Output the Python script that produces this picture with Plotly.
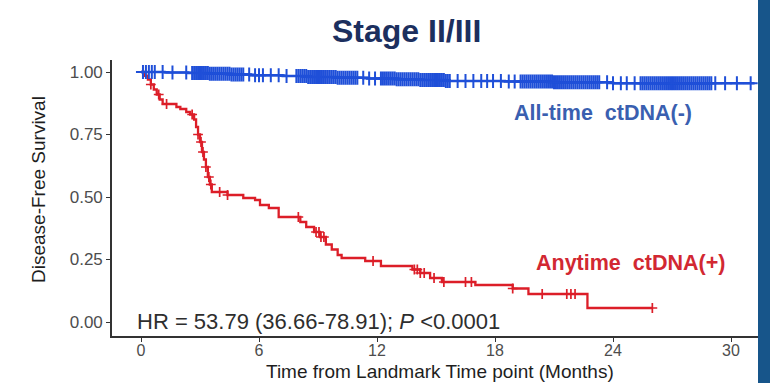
import bisect
import plotly.graph_objects as go

# ---------------- data ----------------
title_text = "Stage II/III"
x_ticks = [0, 6, 12, 18, 24, 30]
y_ticks = [0.0, 0.25, 0.5, 0.75, 1.0]
y_tick_labels = ["0.00", "0.25", "0.50", "0.75", "1.00"]

# All-time ctDNA(-) Kaplan-Meier steps
neg_times = [0, 1.2, 2.4, 3.5, 4.6, 5.6, 7.2, 8.5, 10.0, 11.5, 13.0, 14.2, 15.5, 18.5, 21.0, 24.0]
neg_surv = [1.0, 0.998, 0.996, 0.993, 0.99, 0.987, 0.984, 0.98, 0.977, 0.974, 0.971, 0.968, 0.964, 0.962, 0.959, 0.955]
neg_end = 31.2
neg_censor = [0.1, 0.25, 0.4, 0.55, 0.7, 1.1, 1.6, 2.3,
              2.6, 2.7, 2.8, 2.9, 3.0, 3.1, 3.2, 3.3, 3.4, 3.5, 3.6, 3.7, 3.8, 3.9,
              4.0, 4.1, 4.2, 4.3, 4.4, 4.5, 4.6, 4.7, 4.8, 4.9, 5.0, 5.1, 5.2,
              5.5, 5.8, 6.0, 6.2, 6.6, 7.0, 7.4,
              7.9, 8.0, 8.1, 8.2, 8.3, 8.4, 8.5, 8.6, 8.7, 8.8, 8.9, 9.0, 9.1, 9.2,
              9.3, 9.4, 9.5, 9.6, 9.7, 9.8, 9.9, 10.0, 10.1, 10.2, 10.3, 10.4, 10.5,
              10.6, 10.7, 10.8, 10.9, 11.0, 11.3, 11.6, 11.9,
              12.2, 12.3, 12.4, 12.5, 12.6, 12.7, 12.8, 12.9, 13.0, 13.1, 13.2, 13.3,
              13.4, 13.5, 13.6, 13.7, 13.8, 13.9, 14.0, 14.1, 14.2, 14.3, 14.4, 14.5,
              14.6, 14.7, 14.8, 14.9, 15.0, 15.1, 15.2, 15.3, 15.4, 15.5, 15.6, 15.7,
              16.1, 16.5, 16.9, 17.3, 17.6, 17.9, 18.3, 18.7, 19.0,
              19.3, 19.4, 19.5, 19.6, 19.7, 19.8, 19.9, 20.0, 20.1, 20.2, 20.3, 20.4,
              20.5, 20.6, 20.7, 20.8, 20.9, 21.0, 21.1, 21.2, 21.3, 21.4, 21.5, 21.6,
              21.7, 21.8, 21.9, 22.0, 22.1, 22.2, 22.3, 22.4, 22.5, 22.6, 22.7, 22.8,
              22.9, 23.0, 23.1, 23.2, 23.3,
              23.7, 24.0, 24.4, 24.7, 25.1,
              25.4, 25.5, 25.6, 25.7, 25.8, 25.9, 26.0, 26.1, 26.2, 26.3, 26.4, 26.5,
              26.6, 26.7, 26.8, 26.9, 27.0, 27.1, 27.2, 27.3, 27.4, 27.5, 27.6, 27.7,
              27.8, 27.9, 28.0, 28.1, 28.2, 28.3, 28.4, 28.5, 28.6, 28.7, 28.8, 28.9,
              29.0, 29.2, 29.7, 30.3, 31.0]

# Anytime ctDNA(+) Kaplan-Meier steps
pos_times = [0, 0.2, 0.35, 0.5, 0.65, 0.8, 0.95, 1.1, 1.8, 2.0, 2.3, 2.5, 2.7, 2.8, 2.9,
             3.0, 3.1, 3.2, 3.3, 3.4, 3.5, 3.6, 4.4, 5.2, 5.8, 6.05, 6.5, 7.0, 8.1, 8.4,
             8.8, 9.1, 9.4, 9.7, 10.0, 10.2, 11.4, 12.2, 13.8, 14.2, 14.7, 15.3, 17.0,
             18.9, 19.7, 22.7]
pos_surv = [1.0, 0.985, 0.97, 0.95, 0.93, 0.91, 0.89, 0.872, 0.86, 0.852, 0.84, 0.83, 0.81,
            0.78, 0.75, 0.72, 0.68, 0.65, 0.62, 0.58, 0.55, 0.52, 0.508, 0.496, 0.488, 0.468,
            0.456, 0.42, 0.40, 0.38, 0.36, 0.34, 0.31, 0.29, 0.268, 0.256, 0.244, 0.224,
            0.21, 0.196, 0.176, 0.16, 0.148, 0.134, 0.112, 0.056]
pos_end = 26.0
pos_censor = [0.5, 0.9, 1.3, 2.6, 2.9, 3.05, 3.15, 3.3, 3.45, 3.55, 4.0, 4.4, 8.0, 8.9,
              9.05, 9.15, 9.3, 11.8, 13.9, 14.05, 14.2, 14.4, 14.9, 15.4, 16.5, 16.8,
              18.9, 20.4, 21.65, 21.86, 22.07, 26.0]

label_neg = "All-time\u00a0\u00a0ctDNA(-)"
label_pos = "Anytime\u00a0\u00a0ctDNA(+)"
hr_text = "HR = 53.79 (36.66-78.91); <i>P</i> <0.0001"
x_title = "Time from Landmark Time point (Months)"
y_title = "Disease-Free Survival"

BLUE = "#1f4fd8"
RED = "#dc1e28"
FONT = "Liberation Sans, Arial, sans-serif"


def surv_at(times, surv, t):
    i = bisect.bisect_right(times, t) - 1
    return surv[max(i, 0)]


fig = go.Figure()

for times, surv, end, cens, col, msize, mw in [
    (pos_times, pos_surv, pos_end, pos_censor, RED, 7, 1.7),
    (neg_times, neg_surv, neg_end, neg_censor, BLUE, 10, 2.0),
]:
    fig.add_trace(go.Scatter(
        x=times + [end], y=surv + [surv[-1]], mode="lines",
        line=dict(color=col, width=2.3, shape="hv"), showlegend=False, hoverinfo="skip"))
    fig.add_trace(go.Scatter(
        x=cens, y=[surv_at(times, surv, t) for t in cens], mode="markers",
        marker=dict(symbol="cross-thin", size=msize, line=dict(color=col, width=mw)),
        showlegend=False, hoverinfo="skip"))

W, H = 770, 383
ML, MR, MT, MB = 112, 0, 60, 47
PW, PH = W - ML - MR, H - MT - MB


def px_x(p):
    return (p - ML) / PW


def px_y(p):
    return (H - MB - p) / PH


fig.update_layout(
    width=W, height=H,
    margin=dict(l=ML, r=MR, t=MT, b=MB),
    plot_bgcolor="white", paper_bgcolor="white",
    font=dict(family=FONT),
    xaxis=dict(range=[-1.475, 31.983], tickvals=x_ticks, showgrid=False, zeroline=False,
               showline=True, linecolor="#333333", linewidth=1.6, ticks="outside",
               ticklen=4, tickwidth=1.4, tickcolor="#333333", ticklabelstandoff=-5,
               tickfont=dict(size=16, color="#4d4d4d", family=FONT)),
    yaxis=dict(range=[-0.056, 1.048], tickvals=y_ticks, ticktext=y_tick_labels,
               showgrid=False, zeroline=False, showline=True, linecolor="#333333",
               linewidth=1.6, ticks="outside", ticklen=4, tickwidth=1.4,
               tickcolor="#333333", tickfont=dict(size=17, color="#4d4d4d", family=FONT)),
    annotations=[
        dict(text="<b>" + title_text + "</b>", xref="paper", yref="paper",
             x=px_x(406), y=px_y(31), showarrow=False, xanchor="center", yanchor="middle",
             font=dict(size=32, color="#1c2f5e", family=FONT)),
        dict(text=y_title, xref="paper", yref="paper", x=px_x(38), y=px_y(190),
             showarrow=False, textangle=-90, xanchor="center", yanchor="middle",
             font=dict(size=19, color="#1e1e1e", family=FONT)),
        dict(text=x_title, xref="paper", yref="paper", x=px_x(440), y=px_y(371),
             showarrow=False, xanchor="center", yanchor="middle",
             font=dict(size=19, color="#1e1e1e", family=FONT)),
        dict(text=hr_text, xref="x", yref="y", x=-0.3, y=0.004, showarrow=False,
             xanchor="left", yanchor="middle",
             font=dict(size=22, color="#2e2e2e", family=FONT)),
        dict(text="<b>" + label_neg + "</b>", xref="x", yref="y", x=23.49, y=0.836,
             showarrow=False, xanchor="center", yanchor="middle",
             font=dict(size=21.5, color="#3a5fb0", family=FONT)),
        dict(text="<b>" + label_pos + "</b>", xref="x", yref="y", x=24.9, y=0.236,
             showarrow=False, xanchor="center", yanchor="middle",
             font=dict(size=21.5, color="#d22832", family=FONT)),
    ],
    shapes=[
        dict(type="rect", xref="paper", yref="paper", x0=px_x(758), x1=px_x(772),
             y0=px_y(H + 2), y1=px_y(-2), fillcolor="#17558a", line=dict(width=0),
             layer="above"),
    ],
)

fig.write_html("out.html", config={"displayModeBar": False},
               post_script="document.body.style.margin='0';document.body.style.overflow='hidden';")
